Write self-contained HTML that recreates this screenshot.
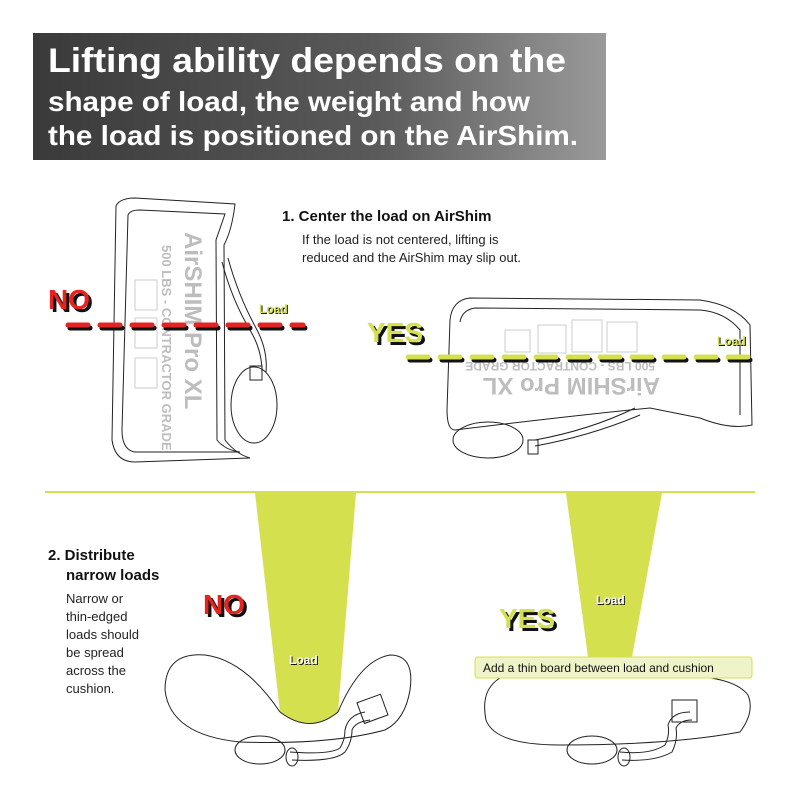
<!DOCTYPE html>
<html><head><meta charset="utf-8"><style>
html,body{margin:0;padding:0;background:#fff;}
svg{display:block;font-family:"Liberation Sans",Arial,sans-serif;}
</style></head><body>
<svg width="800" height="800" viewBox="0 0 800 800" xmlns="http://www.w3.org/2000/svg">
<defs>
<linearGradient id="hg" x1="0" x2="1" y1="0" y2="0">
<stop offset="0" stop-color="#3a3a3a"/><stop offset="0.6" stop-color="#5a5a5a"/><stop offset="1" stop-color="#9a9a9a"/>
</linearGradient>
</defs>
<rect x="33" y="33" width="573" height="127" fill="url(#hg)"/>
<text x="48" y="72" fill="#fff" font-weight="bold" font-size="34" textLength="518" lengthAdjust="spacingAndGlyphs">Lifting ability depends on the</text>
<text x="48" y="111" fill="#fff" font-weight="bold" font-size="28" textLength="482" lengthAdjust="spacingAndGlyphs">shape of load, the weight and how</text>
<text x="48" y="145" fill="#fff" font-weight="bold" font-size="28" textLength="530" lengthAdjust="spacingAndGlyphs">the load is positioned on the AirShim.</text>

<text x="282" y="221" font-weight="bold" font-size="15" fill="#111">1. Center the load on AirShim</text>
<text x="302" y="244" font-size="13" fill="#222">If the load is not centered, lifting is</text>
<text x="302" y="262" font-size="13" fill="#222">reduced and the AirShim may slip out.</text>

<!-- left cushion -->
<g fill="none" stroke="#222" stroke-width="1">
<path d="M116,206 Q120,198 135,198 L235,204 Q232,230 224,245 L225,440 Q236,454 250,458 L135,462 Q115,462 112,440 Z"/>
<path d="M128,215 Q130,210 140,210 L225,214 L216,240 L217,440 Q225,450 240,452 L135,452 Q122,450 122,430 Z"/>
<path d="M222,262 Q232,300 250,330 Q262,350 262,372 M228,258 Q238,295 256,328 Q268,350 266,372"/>
<ellipse cx="254" cy="405" rx="23" ry="38"/>
<rect x="250" y="366" width="12" height="14"/>
</g>
<g fill="#bdbdbd" font-weight="bold">
<text transform="translate(185,232) rotate(90)" font-size="24">AirSHIM Pro XL</text>
<text transform="translate(162,245) rotate(90)" font-size="13">500 LBS - CONTRACTOR GRADE</text>
</g>
<g fill="none" stroke="#ccc"><rect x="135" y="280" width="22" height="30"/><rect x="135" y="318" width="22" height="30"/><rect x="135" y="358" width="22" height="30"/></g>

<text x="51" y="312" font-weight="bold" font-size="28" fill="#111">NO</text>
<text x="48" y="309" font-weight="bold" font-size="28" fill="#e52320">NO</text>
<line x1="70" y1="328" x2="305" y2="328" stroke="#111" stroke-width="5" stroke-dasharray="20,12" stroke-linecap="round"/>
<line x1="68" y1="325" x2="303" y2="325" stroke="#e52320" stroke-width="5" stroke-dasharray="20,12" stroke-linecap="round"/>
<text x="260" y="314" font-weight="bold" font-size="12" fill="#111">Load</text>
<text x="259" y="313" font-weight="bold" font-size="12" fill="#d5e04f">Load</text>

<!-- right cushion -->
<g fill="none" stroke="#222" stroke-width="1">
<path d="M450,320 Q452,300 470,298 L700,300 Q735,305 750,325 L752,425 Q730,430 700,418 L650,408 Q570,416 455,430 Q447,430 447,410 Z"/>
<path d="M460,322 Q462,310 475,308 L700,310 Q725,312 740,330 L740,415"/>
<path d="M535,440 Q590,430 635,408 M535,446 Q590,436 640,415"/>
<ellipse cx="488" cy="440" rx="35" ry="18"/>
<rect x="528" y="440" width="10" height="14"/>
</g>
<g fill="#bdbdbd" font-weight="bold">
<text transform="translate(660,378) rotate(180)" font-size="24">AirSHIM Pro XL</text>
<text transform="translate(655,362) rotate(180)" font-size="12">500 LBS - CONTRACTOR GRADE</text>
</g>
<g fill="none" stroke="#ccc"><rect x="505" y="330" width="25" height="22"/><rect x="538" y="325" width="28" height="28"/><rect x="572" y="320" width="30" height="32"/><rect x="607" y="322" width="30" height="30"/></g>

<text x="370" y="345" font-weight="bold" font-size="28" fill="#111">YES</text>
<text x="367" y="342" font-weight="bold" font-size="28" fill="#d5e04f">YES</text>
<line x1="410" y1="360" x2="755" y2="360" stroke="#111" stroke-width="5" stroke-dasharray="20,12" stroke-linecap="round"/>
<line x1="408" y1="357" x2="753" y2="357" stroke="#d5e04f" stroke-width="5" stroke-dasharray="20,12" stroke-linecap="round"/>
<text x="718" y="346" font-weight="bold" font-size="12" fill="#111">Load</text>
<text x="717" y="345" font-weight="bold" font-size="12" fill="#d5e04f">Load</text>

<line x1="45" y1="492" x2="755" y2="492" stroke="#d5e04f" stroke-width="2"/>

<text x="48" y="560" font-weight="bold" font-size="15" fill="#111">2. Distribute</text>
<text x="66" y="580" font-weight="bold" font-size="15" fill="#111">narrow loads</text>
<g font-size="13" fill="#222">
<text x="66" y="603">Narrow or</text><text x="66" y="621">thin-edged</text><text x="66" y="639">loads should</text><text x="66" y="657">be spread</text><text x="66" y="675">across the</text><text x="66" y="693">cushion.</text>
</g>

<!-- bottom left -->
<path d="M255,493 L356,493 L338,712 Q310,735 280,712 Z" fill="#d5e04f"/>
<g fill="none" stroke="#222" stroke-width="1">
<path d="M280,712 Q245,660 205,655 Q165,652 165,690 Q170,735 240,742 Q330,745 385,730 Q405,720 410,690 Q415,655 390,655 Q360,660 338,712 Q310,735 280,712"/>
<ellipse cx="260" cy="750" rx="25" ry="14"/>
<path d="M290,752 Q330,755 340,748 Q345,740 345,730 Q348,715 365,712 M292,760 Q335,762 345,752 Q352,742 352,730 Q355,722 370,720"/>
<rect x="360" y="698" width="25" height="22" transform="rotate(-20 372 709)"/>
<ellipse cx="292" cy="757" rx="6" ry="9"/>
</g>
<text x="206" y="617" font-weight="bold" font-size="28" fill="#111">NO</text>
<text x="203" y="614" font-weight="bold" font-size="28" fill="#e52320">NO</text>
<text x="290" y="665" font-weight="bold" font-size="12" fill="#111">Load</text>
<text x="289" y="664" font-weight="bold" font-size="12" fill="#fff">Load</text>

<!-- bottom right -->
<path d="M566,493 L662,493 L632,657 L588,657 Z" fill="#d5e04f"/>
<g fill="none" stroke="#222" stroke-width="1">
<path d="M500,678 Q480,690 486,720 Q495,745 560,745 Q670,745 740,732 Q755,712 748,695 Q735,678 690,676 Q600,672 500,678 Z"/>
<ellipse cx="592" cy="750" rx="25" ry="14"/>
<path d="M620,752 Q650,755 665,745 Q670,735 668,725 Q672,712 690,712 M622,760 Q655,762 672,752 Q678,740 676,728 Q680,720 692,720"/>
<rect x="672" y="700" width="25" height="22"/>
<ellipse cx="624" cy="757" rx="6" ry="9"/>
</g>
<rect x="475" y="657" width="277" height="21" rx="3" fill="#eef3c8" stroke="#d5e04f"/>
<text x="483" y="672" font-size="12" fill="#111">Add a thin board between load and cushion</text>
<text x="502" y="631" font-weight="bold" font-size="28" fill="#111">YES</text>
<text x="499" y="628" font-weight="bold" font-size="28" fill="#d5e04f">YES</text>
<text x="597" y="605" font-weight="bold" font-size="12" fill="#111">Load</text>
<text x="596" y="604" font-weight="bold" font-size="12" fill="#fff">Load</text>
</svg>
</body></html>
